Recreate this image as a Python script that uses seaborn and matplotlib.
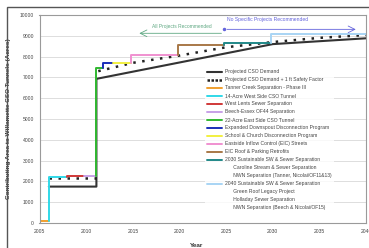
import numpy as np
import pandas as pd
import matplotlib.pyplot as plt
import seaborn as sns
from matplotlib.lines import Line2D
from matplotlib.patches import Rectangle

# capacity projects, in the order they come on line
projects = [
    "Tanner Creek Separation - Phase III",
    "14-Acre West Side CSO Tunnel",
    "West Lents Sewer Separation",
    "Beech-Essex OF44 Separation",
    "22-Acre East Side CSO Tunnel",
    "Expanded Downspout Disconnection Program",
    "School & Church Disconnection Program",
    "Eastside Inflow Control (EIC) Streets",
    "EIC Roof & Parking Retrofits",
    "2030 Sustainable SW & Sewer Separation",
    "2040 Sustainable SW & Sewer Separation",
]
proj_start = [2005, 2006, 2008, 2009.8, 2011.1, 2011.85, 2012.85, 2014.8, 2019.9, 2024.8, 2029.8]
proj_level = [100, 2230, 2260, 2280, 7450, 7680, 7710, 8080, 8560, 8670, 9070]
proj_colors = ["#f0a030", "#30d8e8", "#d03838", "#c8a0e8", "#30b830", "#1a2eb8",
               "#f2f040", "#f090d0", "#a87848", "#208888", "#a8d4f4"]
end_year = 2040

sub_2030 = ["Caroline Stream & Sewer Separation", "NWN Separation (Tanner, Nicolai/OF11&13)"]
sub_2040 = ["Green Roof Legacy Project", "Holladay Sewer Separation",
            "NWN Separation (Beech & Nicolai/OF15)"]

demand_years = [2006, 2011.1, 2011.1, 2030, 2040]
demand = [1750, 1750, 6930, 8600, 8880]

safety_years = [2006, 2011.1, 2011.3, 2015, 2020, 2025, 2030, 2035, 2040]
safety = [2180, 2180, 7300, 7700, 8050, 8450, 8700, 8900, 9040]
safety_seg = [0, 0, 1, 1, 1, 1, 1, 1, 1]

sns.set_theme(style="whitegrid")
plt.rcParams["font.family"] = ["Liberation Sans", "DejaVu Sans"]

fig = plt.figure(figsize=(3.69, 2.48), dpi=100)
ax = fig.add_axes([39.5 / 369, 1 - 223 / 248, (366 - 39.5) / 369, (223 - 15) / 248])

dem = pd.DataFrame({"year": demand_years, "acres": demand})
sns.lineplot(data=dem, x="year", y="acres", sort=False, estimator=None,
             color="#333333", lw=1.5, ax=ax)

saf = pd.DataFrame({"year": safety_years, "acres": safety, "seg": safety_seg})
sns.lineplot(data=saf, x="year", y="acres", units="seg", sort=False, estimator=None,
             color="#222222", lw=1.8, dashes=False, ax=ax)
for ln in ax.lines[1:]:
    ln.set_dashes((1, 2.6))
    ln.set_dash_capstyle("butt")

rows = []
for i, name in enumerate(projects):
    prev = proj_level[i - 1] if i > 0 else proj_level[0]
    end = proj_start[i + 1] if i + 1 < len(projects) else end_year
    rows += [(name, proj_start[i], prev), (name, proj_start[i], proj_level[i]),
             (name, end, proj_level[i])]
proj = pd.DataFrame(rows, columns=["project", "year", "acres"])
sns.lineplot(data=proj, x="year", y="acres", hue="project", hue_order=projects,
             palette=dict(zip(projects, proj_colors)), sort=False, estimator=None,
             lw=1.4, legend=False, ax=ax)

# annotations
ax.annotate("", xy=(2015.4, 9120), xytext=(2024.8, 9120),
            arrowprops=dict(arrowstyle="->", color="#5fa882", lw=0.6))
ax.text(2020.3, 9440, "All Projects Recommended", color="#5fa882", fontsize=3.5,
        ha="center", va="center")
ax.annotate("", xy=(2039.2, 9310), xytext=(2024.8, 9310),
            arrowprops=dict(arrowstyle="->", color="#6464dc", lw=0.6))
ax.plot([2024.8], [9310], "o", ms=1.5, color="#6464dc")
ax.text(2029.4, 9760, "No Specific Projects Recommended", color="#6464dc", fontsize=3.6,
        ha="center", va="center")

ax.set_xlim(2005, 2040)
ax.set_ylim(0, 10000)
ax.set_xticks(range(2005, 2041, 5))
ax.set_yticks(range(0, 10001, 1000))
ax.grid(axis="x", visible=False)
ax.grid(axis="y", color="#d8d8d8", lw=0.6)
for s in ax.spines.values():
    s.set_color("#9a9a9a")
    s.set_linewidth(0.8)
ax.tick_params(axis="both", labelsize=3.6, length=2, width=0.6, color="#888888",
               labelcolor="#444444", pad=2)
ax.set_xlabel("Year", fontsize=4.6, fontweight="bold", color="#333333")
ax.set_ylabel("Contributing Area to Willamette CSO Tunnels (Acres)", fontsize=4.6,
              fontweight="bold", color="#333333")
ax.xaxis.set_label_coords(0.482, -0.096)
ax.yaxis.set_label_coords(-0.087, 0.5)

# legend
handles = [Line2D([], [], color="#333333", lw=1.5),
           Line2D([], [], color="#222222", lw=1.8, dashes=(1, 0.6), dash_capstyle="butt")]
labels = ["Projected CSO Demand", "Projected CSO Demand + 1 ft Safety Factor"]
blank = Line2D([], [], color="none")
for name, c in zip(projects, proj_colors):
    handles.append(Line2D([], [], color=c, lw=1.4))
    labels.append(name)
    if name.startswith("2030"):
        for s in sub_2030:
            handles.append(blank)
            labels.append("      " + s)
    if name.startswith("2040"):
        for s in sub_2040:
            handles.append(blank)
            labels.append("      " + s)
leg = fig.legend(handles, labels, loc="upper left", bbox_to_anchor=(204.5 / 369, 1 - 67 / 248),
                 fontsize=3.6, handlelength=3.0, handletextpad=0.6, labelspacing=0.6,
                 borderpad=0.5, borderaxespad=0, frameon=True, fancybox=False)
leg.get_frame().set_facecolor("white")
leg.get_frame().set_edgecolor("none")
for t in leg.get_texts():
    t.set_color("#444444")

fig.patches.append(Rectangle((7 / 369, -0.2), 1.2, 1.2 - 7 / 248, transform=fig.transFigure,
                             fill=False, edgecolor="#555555", lw=1.0))

fig.savefig("out.png", dpi=100)
